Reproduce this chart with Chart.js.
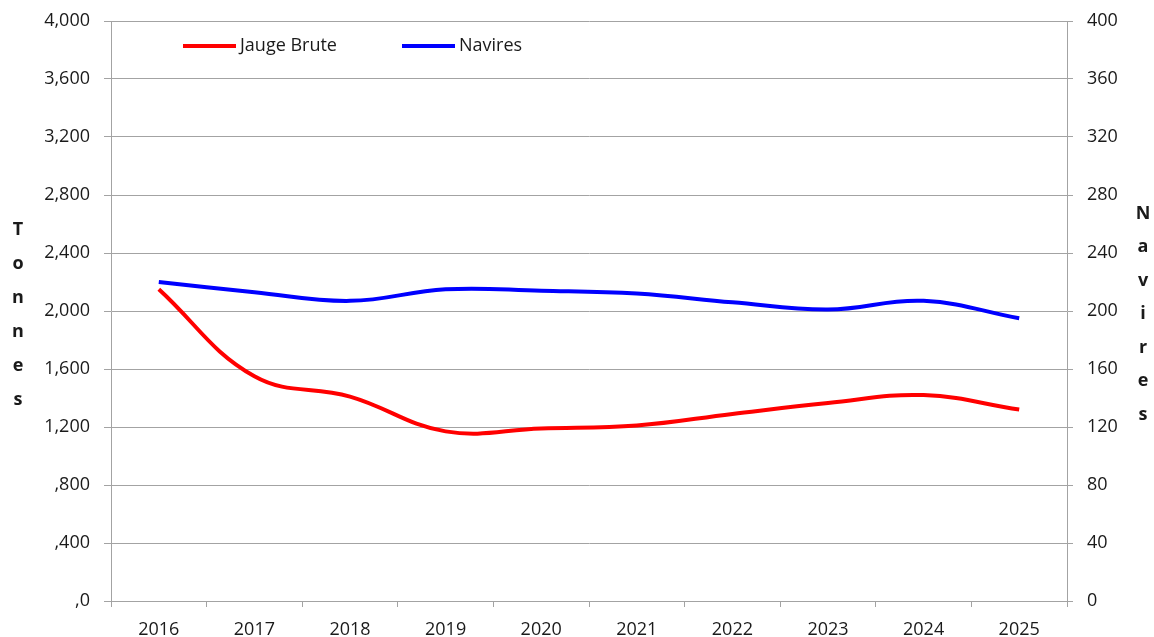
<!DOCTYPE html>
<html>
<head>
<meta charset="utf-8">
<script src="https://cdn.jsdelivr.net/npm/chart.js@4/dist/chart.umd.min.js"></script>
<style>
  html, body { margin: 0; padding: 0; background: #fff; }
  #wrap { width: 1154px; height: 637px; position: relative; }
</style>
</head>
<body>
<div id="wrap"><canvas id="tonnage"></canvas></div>
<script>
const years = ["2016", "2017", "2018", "2019", "2020", "2021", "2022", "2023", "2024", "2025"];
const jaugeBrute = [2150, 1550, 1410, 1170, 1190, 1210, 1290, 1365, 1420, 1320];
const navires = [220, 213, 207, 215, 214, 212, 206, 201, 207, 195];

const leftMax = 4000, leftStep = 400;
const rightMax = 400, rightStep = 40;
const leftTitle = "Tonnes";
const rightTitle = "Navires";

const gridColor = "#a3a3a3";
const textColor = "#1a1a1a";
const fontFamily = "'Open Sans', 'Noto Sans', sans-serif";

// Excel-style thousands: "4,000" ... ",800" ",0"
function tonnesLabel(v) {
    const th = Math.floor(v / 1000);
    const rest = v % 1000;
    return th ? th + "," + String(rest).padStart(3, "0") : "," + rest;
}

// legend and stacked axis titles drawn by hand
const decorations = {
    id: "decorations",
    afterDraw(chart) {
        const c = chart.ctx;
        const area = chart.chartArea;
        c.save();
        c.textBaseline = "middle";
        c.fillStyle = textColor;

        // legend
        c.font = "18px " + fontFamily;
        const legendY = area.top + 25;
        const entries = [
            { ds: chart.data.datasets[0], x: area.left + 72 },
            { ds: chart.data.datasets[1], x: area.left + 291 }
        ];
        entries.forEach(e => {
            c.strokeStyle = e.ds.borderColor;
            c.lineWidth = 4;
            c.beginPath();
            c.moveTo(e.x, legendY);
            c.lineTo(e.x + 53, legendY);
            c.stroke();
            c.textAlign = "left";
            c.fillText(e.ds.label, e.x + 57, legendY);
        });

        // stacked letters
        c.font = "bold 18px " + fontFamily;
        c.textAlign = "center";
        const mid = (area.top + area.bottom) / 2;
        const gap = 34;
        [...leftTitle].forEach((ch, i) => {
            c.fillText(ch, 18, mid + 4 + (i - (leftTitle.length - 1) / 2) * gap);
        });
        [...rightTitle].forEach((ch, i) => {
            c.fillText(ch, 1143, mid + 3 + (i - (rightTitle.length - 1) / 2) * 33.5);
        });
        c.restore();
    }
};

function fixY(width) {
    return scale => {
        scale.width = width;
        scale.paddingTop = 0;
        scale.paddingBottom = 0;
    };
}

const ctx = document.getElementById("tonnage").getContext("2d");

new Chart(ctx, {
    type: "line",
    data: {
        labels: years,
        datasets: [
            { label: "Jauge Brute", data: jaugeBrute, borderColor: "#ff0000", backgroundColor: "#ff0000",
              borderWidth: 4, pointRadius: 0, tension: 0.4, fill: false, yAxisID: "y" },
            { label: "Navires", data: navires, borderColor: "#0000ff", backgroundColor: "#0000ff",
              borderWidth: 4, pointRadius: 0, tension: 0.4, fill: false, yAxisID: "y1" }
        ]
    },
    options: {
        responsive: true,
        maintainAspectRatio: false,
        animation: false,
        layout: { padding: { top: 21, left: 0, right: 0, bottom: 0 } },
        plugins: {
            legend: { display: false },
            tooltip: { enabled: false }
        },
        scales: {
            x: {
                offset: true,
                grid: { offset: true, drawOnChartArea: false, drawTicks: true, tickLength: 6, color: gridColor },
                border: { color: gridColor },
                ticks: { color: textColor, font: { family: fontFamily, size: 18 }, padding: 12, maxRotation: 0 },
                afterFit(scale) { scale.height = 36; scale.paddingLeft = 0; scale.paddingRight = 0; }
            },
            y: {
                position: "left",
                min: 0,
                max: leftMax,
                ticks: { stepSize: leftStep, color: textColor, font: { family: fontFamily, size: 18 }, padding: 14,
                         callback: v => tonnesLabel(v) },
                grid: { color: gridColor, tickLength: 7 },
                border: { color: gridColor },
                afterFit: fixY(111)
            },
            y1: {
                position: "right",
                min: 0,
                max: rightMax,
                ticks: { stepSize: rightStep, color: textColor, font: { family: fontFamily, size: 18 }, padding: 14 },
                grid: { drawOnChartArea: false, color: gridColor, tickLength: 6 },
                border: { color: gridColor },
                afterFit: fixY(87)
            }
        }
    },
    plugins: [decorations]
});
</script>
</body>
</html>
